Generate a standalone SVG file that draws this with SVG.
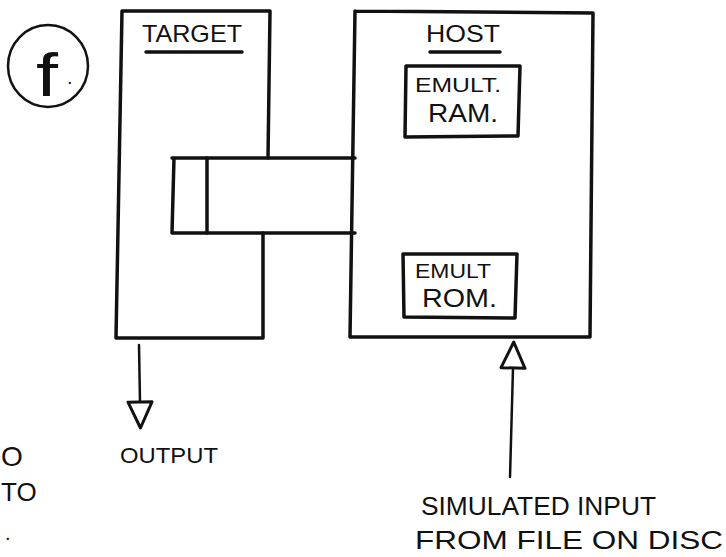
<svg xmlns="http://www.w3.org/2000/svg" width="726" height="557" viewBox="0 0 726 557">
<style>
.ln{fill:none;stroke:#111;stroke-width:3.5;stroke-linecap:round;stroke-linejoin:round}
.thin{fill:none;stroke:#111;stroke-width:2.5;stroke-linecap:round}
.t{font-family:"Liberation Sans",Arial,sans-serif;fill:#111}
</style>
<defs>
<marker id="open" viewBox="-3 -15 34 30" markerWidth="34" markerHeight="30" refX="0" refY="0" orient="auto" markerUnits="userSpaceOnUse">
<path d="M0,-12 L26,0 L0,12 Z" fill="#fff" stroke="#111" stroke-width="3" stroke-linejoin="round"/>
</marker>
</defs>
<rect width="726" height="557" fill="#fff"/>

<g id="label-f">
<ellipse cx="48" cy="66" rx="40" ry="41" class="thin"/>
<text class="t" x="36" y="96" font-size="62" textLength="22" lengthAdjust="spacingAndGlyphs">f</text>
<text class="t" x="67" y="84" font-size="20">.</text>
</g>

<g id="target">
<path class="ln" d="M122,11 L270,11 L268,158 M263,233 L263,338 L116,338 L122,11"/>
<text class="t" x="142" y="42" font-size="24" textLength="100" lengthAdjust="spacingAndGlyphs">TARGET</text>
<line class="ln" x1="146" y1="52" x2="242" y2="52"/>
</g>

<g id="interface">
<path class="ln" d="M172,158 L355,158 M355,233 L172,233 L174,158"/>
<line class="ln" x1="207" y1="158" x2="207" y2="233"/>
</g>

<g id="host">
<path class="ln" d="M355,11 L593,13 L590,337 L350,337 L355,11"/>
<text class="t" x="426" y="42" font-size="24" textLength="74" lengthAdjust="spacingAndGlyphs">HOST</text>
<line class="ln" x1="430" y1="52" x2="500" y2="52"/>
</g>

<g id="emult-ram">
<path class="ln" d="M406,66 L520,66 L518,136 L405,137 Z"/>
<text class="t" x="415" y="92" font-size="20" textLength="86" lengthAdjust="spacingAndGlyphs">EMULT.</text>
<text class="t" x="428" y="122" font-size="26" textLength="70" lengthAdjust="spacingAndGlyphs">RAM.</text>
</g>

<g id="emult-rom">
<path class="ln" d="M403,254 L517,254 L515,318 L404,317 Z"/>
<text class="t" x="415" y="278" font-size="20" textLength="76" lengthAdjust="spacingAndGlyphs">EMULT</text>
<text class="t" x="422" y="307" font-size="26" textLength="75" lengthAdjust="spacingAndGlyphs">ROM.</text>
</g>

<g id="connectors">
<line class="thin" x1="139" y1="345" x2="140" y2="402" marker-end="url(#open)"/>
<line class="thin" x1="510" y1="477" x2="513" y2="368" marker-end="url(#open)"/>
</g>

<g id="labels">
<text class="t" x="120" y="463" font-size="22" textLength="98" lengthAdjust="spacingAndGlyphs">OUTPUT</text>
<text class="t" x="421" y="515" font-size="26" textLength="235" lengthAdjust="spacingAndGlyphs">SIMULATED INPUT</text>
<text class="t" x="415" y="549" font-size="26" textLength="308" lengthAdjust="spacingAndGlyphs">FROM FILE ON DISC</text>
<text class="t" x="1" y="466" font-size="28">O</text>
<text class="t" x="1" y="501" font-size="26">TO</text>
<text class="t" x="5" y="540" font-size="20">.</text>
</g>
</svg>
